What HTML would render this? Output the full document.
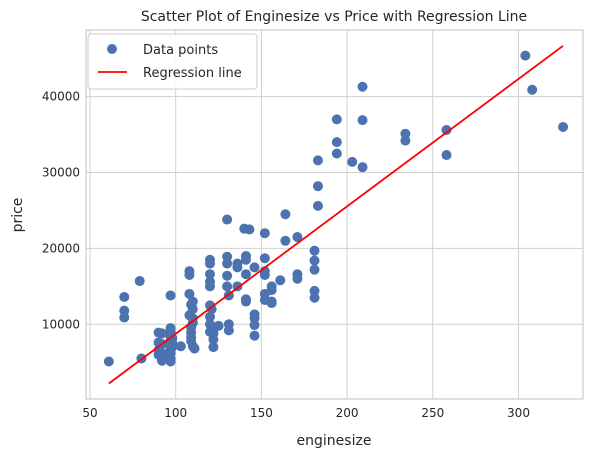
<!DOCTYPE html>
<html><head><meta charset="utf-8"><style>
body{margin:0;background:#fff;font-family:"Liberation Sans","DejaVu Sans",sans-serif;}
svg text{font-family:"DejaVu Sans","Liberation Sans",sans-serif;fill:#262626;}
</style></head><body>
<svg id="chart" width="592" height="457">
<text x="334" y="21" font-size="14" text-anchor="middle">Scatter Plot of Enginesize vs Price with Regression Line</text>
<g id="grid"></g><g id="marks"></g><g id="axes"></g>
<text x="334" y="445" font-size="14" text-anchor="middle">enginesize</text>
<text x="22" y="215" font-size="14" text-anchor="middle" transform="rotate(-90 22 215)">price</text>
<g>
<rect x="88" y="34" width="169" height="55" rx="3" fill="#fff" fill-opacity="0.8" stroke="#ccc"/>
<circle cx="112" cy="49" r="5" fill="#4c72b0"/>
<text x="143" y="54" font-size="13">Data points</text>
<line x1="98" y1="72" x2="127" y2="72" stroke="red" stroke-width="1.8"/>
<text x="143" y="77" font-size="13">Regression line</text>
</g>
</svg>
<script>
const engineSize=[61,70,70,70,79,80,97,108,108,108,110,110,120,120,120,120,120,120,120,120,120,122,130,130,130,130,130,131,131,131,136,136,136,140,141,141,141,141,141,143,146,146,146,146,146,152,152,152,152,152,152,156,156,156,156,164,164,161,171,171,171,181,181,181,181,181,183,183,183,194,194,194,203,209,209,209,234,234,258,258,304,308,326,90,90,90,90,92,92,92,92,92,97,97,97,97,97,97,97,97,97,98,98,98,103,109,109,109,109,110,109,110,110,111,108,122,122,122,121,125];
const price=[5100,13600,11800,10900,15700,5500,13800,17000,16500,14000,13000,12000,18500,18000,16600,15600,15000,12500,11000,10000,9000,7000,23800,18900,18000,16400,15000,13800,10000,9200,18000,17500,15000,22600,19000,18500,16600,13300,13000,22500,17500,11300,10800,9900,8500,22000,18700,17000,16500,14000,13200,15000,14500,13000,12800,24500,21000,15800,21500,16600,16000,19700,18400,17200,14400,13500,31600,28200,25600,37000,34000,32500,31400,41300,36900,30700,35100,34200,35600,32300,45400,40900,36000,8900,7600,6600,6000,8800,7400,6200,5500,5200,9500,9000,8400,7800,7200,6700,6200,5500,5100,8200,7000,7600,7100,9600,8900,8300,7800,7100,12600,10800,10200,6800,11200,9500,8800,8000,12000,9800];
const xTicks=[50,100,150,200,250,300];
const yTicks=[10000,20000,30000,40000];
const regSlope=[167.9];
const regIntercept=[-8042];
const L=86,R=583,T=30,B=399;
const sx=v=>90+(v-50)*1.714;
const sy=v=>324.3-(v-10000)*0.00759;
const NS="http://www.w3.org/2000/svg";
function mk(tag,attrs,parent){const e=document.createElementNS(NS,tag);for(const k in attrs)e.setAttribute(k,attrs[k]);parent.appendChild(e);return e;}
const grid=document.getElementById('grid'),marks=document.getElementById('marks'),axes=document.getElementById('axes');
xTicks.forEach(t=>{
 const g=mk('line',{x1:sx(t),x2:sx(t),y1:T,y2:B,stroke:'#d0d0d0','stroke-width':1},grid);
 
 
 const tx=mk('text',{x:sx(t),y:B+18,'font-size':12,'text-anchor':'middle'},axes);tx.textContent=t;
 
 
});
yTicks.forEach(t=>{
 const g=mk('line',{x1:L,x2:R,y1:sy(t),y2:sy(t),stroke:'#d0d0d0','stroke-width':1},grid);
 
 
 const tx=mk('text',{x:L-6,y:sy(t)+4,'font-size':12,'text-anchor':'end'},axes);tx.textContent=t;
 
 
});
const fr=mk('rect',{x:L,y:T,width:R-L,height:B-T,fill:'none',stroke:'#ccc','stroke-width':1.2},axes);


engineSize.forEach((x,i)=>{
 const c=mk('circle',{cx:sx(x),cy:sy(price[i]),r:5,fill:'#4c72b0'},marks);
 
 
});
const xmin=Math.min(...engineSize),xmax=Math.max(...engineSize);
const ln=mk('line',{x1:sx(xmin),y1:sy(regSlope[0]*xmin+regIntercept[0]),x2:sx(xmax),y2:sy(regSlope[0]*xmax+regIntercept[0]),stroke:'red','stroke-width':1.8},marks);


</script>
</body></html>
